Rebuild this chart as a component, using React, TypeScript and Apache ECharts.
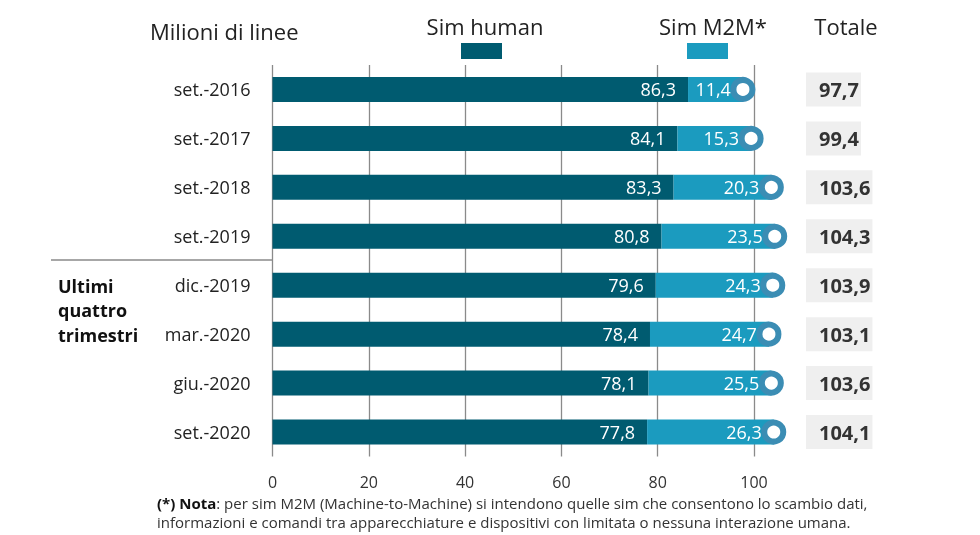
import React, { useEffect, useRef } from "react";
import * as echarts from "echarts";

const categories = ["set.-2016", "set.-2017", "set.-2018", "set.-2019", "dic.-2019", "mar.-2020", "giu.-2020", "set.-2020"];
const simHuman = [86.3, 84.1, 83.3, 80.8, 79.6, 78.4, 78.1, 77.8];
const simM2M = [11.4, 15.3, 20.3, 23.5, 24.3, 24.7, 25.5, 26.3];
const totals = [97.7, 99.4, 103.6, 104.3, 103.9, 103.1, 103.6, 104.1];
const xMin = 0;
const xMax = 100;
const xInterval = 20;

const FONT = "'Open Sans', 'Noto Sans', sans-serif";
const HUMAN = "#005b70";
const M2M = "#1b9bbf";
const CAP = "#3b8db4";

const fmt = (v: number) => v.toFixed(1).replace(".", ",");

export default function App() {
  const ref = useRef<HTMLDivElement>(null);
  useEffect(() => {
    if (!ref.current) return;
    const chart = echarts.init(ref.current, null, { renderer: "svg" });
    chart.setOption({
      animation: false,
      textStyle: { fontFamily: FONT },
      grid: { left: 272.5, right: 226, top: 65, bottom: 78.5 },
      xAxis: {
        type: "value",
        min: xMin,
        max: xMax,
        interval: xInterval,
        axisLine: { show: false },
        axisTick: { show: false },
        splitLine: { show: true, lineStyle: { color: "#8a8a8a", width: 1.3 } },
        axisLabel: { fontSize: 16, color: "#333", margin: 17, fontFamily: FONT },
      },
      yAxis: [
        {
          type: "category",
          data: categories,
          inverse: true,
          axisLine: { show: false },
          axisTick: { show: false },
          axisLabel: { fontSize: 18, color: "#222", margin: 22, fontFamily: FONT },
        },
        {
          type: "category",
          data: totals.map(fmt),
          inverse: true,
          position: "right",
          axisLine: { show: false },
          axisTick: { show: false },
          splitLine: { show: false },
          axisLabel: {
            margin: 52,
            align: "left",
            fontSize: 20,
            fontWeight: "bold",
            color: "#333",
            fontFamily: FONT,
            backgroundColor: "#efefef",
            padding: [7, 2, 7, 13],
          },
        },
      ],
      series: [
        {
          type: "bar",
          name: "Sim human",
          stack: "tot",
          barWidth: 25,
          clip: false,
          data: simHuman,
          itemStyle: { color: HUMAN },
          label: {
            show: true,
            position: "insideRight",
            distance: 12,
            color: "#fff",
            fontSize: 18,
            fontFamily: FONT,
            formatter: (p: any) => fmt(p.value),
          },
        },
        {
          type: "bar",
          name: "Sim M2M*",
          stack: "tot",
          barWidth: 25,
          clip: false,
          data: simM2M,
          itemStyle: { color: M2M },
          label: {
            show: true,
            position: "insideRight",
            distance: 12,
            color: "#fff",
            fontSize: 18,
            fontFamily: FONT,
            formatter: (p: any) => fmt(p.value),
          },
        },
        {
          type: "scatter",
          clip: false,
          z: 5,
          symbol: "circle",
          symbolSize: 19,
          data: totals.map((t, i) => [t, i]),
          itemStyle: { color: "#fff", borderColor: CAP, borderWidth: 6, opacity: 1 },
        },
      ],
      graphic: [
        {
          type: "text",
          x: 150,
          y: 31,
          style: { text: "Milioni di linee", fontSize: 22, fill: "#222", fontFamily: FONT, align: "left", verticalAlign: "middle" },
        },
        {
          type: "text",
          x: 485,
          y: 26,
          style: { text: "Sim human", fontSize: 22, fill: "#222", fontFamily: FONT, align: "center", verticalAlign: "middle" },
        },
        {
          type: "rect",
          shape: { x: 461, y: 43, width: 41, height: 16 },
          style: { fill: HUMAN },
        },
        {
          type: "text",
          x: 713,
          y: 26,
          style: { text: "Sim M2M*", fontSize: 22, fill: "#222", fontFamily: FONT, align: "center", verticalAlign: "middle" },
        },
        {
          type: "rect",
          shape: { x: 687, y: 43, width: 41, height: 16 },
          style: { fill: M2M },
        },
        {
          type: "text",
          x: 846,
          y: 26,
          style: { text: "Totale", fontSize: 22, fill: "#222", fontFamily: FONT, align: "center", verticalAlign: "middle" },
        },
        {
          type: "line",
          shape: { x1: 51, y1: 260, x2: 272, y2: 260 },
          style: { stroke: "#8a8a8a", lineWidth: 1.5 },
        },
        {
          type: "text",
          x: 58,
          y: 310,
          style: {
            text: "Ultimi\nquattro\ntrimestri",
            fontSize: 18,
            fontWeight: "bold",
            lineHeight: 24.5,
            fill: "#111",
            fontFamily: FONT,
            align: "left",
            verticalAlign: "middle",
          },
        },
        {
          type: "text",
          x: 157,
          y: 512,
          style: {
            text:
              "{b|(*) Nota}: per sim M2M (Machine-to-Machine) si intendono quelle sim che consentono lo scambio dati,\ninformazioni e comandi tra apparecchiature e dispositivi con limitata o nessuna interazione umana.",
            fontSize: 15,
            lineHeight: 19,
            fill: "#333",
            fontFamily: FONT,
            align: "left",
            verticalAlign: "middle",
            rich: {
              b: { fontWeight: "bold", fontSize: 15, fill: "#111", fontFamily: FONT, lineHeight: 19 },
            },
          },
        },
      ],
    });
    return () => chart.dispose();
  }, []);
  return <div ref={ref} style={{ position: "fixed", left: 0, top: 0, width: 980, height: 535 }} />;
}
